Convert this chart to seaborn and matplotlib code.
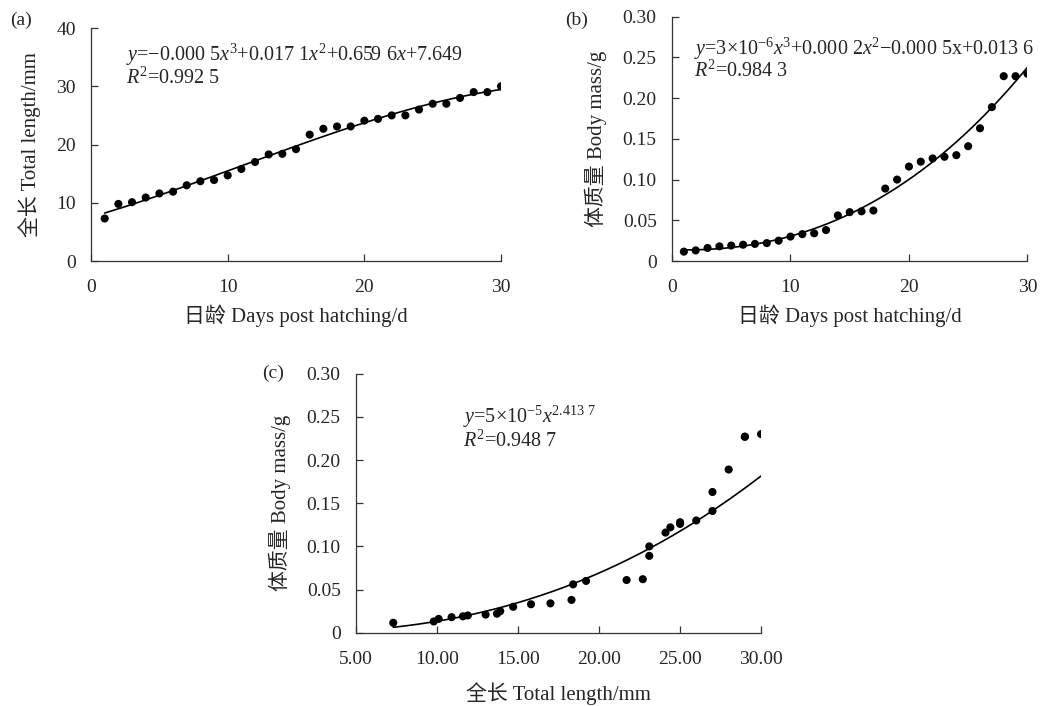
import numpy as np
import pandas as pd
import matplotlib
matplotlib.use("Agg")
import matplotlib.pyplot as plt
import seaborn as sns

# dades llegides de la figura
days = list(range(1, 31))
total_length = [7.3, 9.8, 10.1, 10.9, 11.6, 11.9, 13.0, 13.7, 13.9, 14.7,
                15.8, 17.0, 18.3, 18.4, 19.2, 21.7, 22.7, 23.1, 23.1, 24.1,
                24.4, 25.0, 25.0, 26.0, 27.0, 27.0, 28.0, 29.0, 29.0, 30.0]
body_mass = [0.0115, 0.013, 0.016, 0.018, 0.019, 0.020, 0.021, 0.022, 0.025, 0.030,
             0.033, 0.034, 0.038, 0.056, 0.060, 0.061, 0.062, 0.089, 0.100, 0.116,
             0.122, 0.126, 0.128, 0.130, 0.141, 0.163, 0.189, 0.227, 0.227, 0.230]

eq_a = [r"$y$=−0.000 5$x^3$+0.017 1$x^2$+0.659 6$x$+7.649", r"$R^2$=0.992 5"]
eq_b = [r"$y$=3×10$^{-6}$$x^3$+0.000 2$x^2$−0.000 5x+0.013 6", r"$R^2$=0.984 3"]
eq_c = [r"$y$=5×10$^{-5}$$x^{2.413\ 7}$", r"$R^2$=0.948 7"]

df = pd.DataFrame({"dia": days, "llarg": total_length, "massa": body_mass})

sns.set_style("ticks")
plt.rcParams["font.family"] = ["Liberation Serif", "Noto Sans CJK SC"]
plt.rcParams["mathtext.fontset"] = "custom"
plt.rcParams["mathtext.rm"] = "Liberation Serif"
plt.rcParams["mathtext.it"] = "Liberation Serif:italic"
plt.rcParams["axes.edgecolor"] = "#333333"
plt.rcParams["axes.linewidth"] = 0.9

fig = plt.figure(figsize=(10.44, 7.06), dpi=100)
ax_a = fig.add_axes([0.0872, 0.6303, 0.3927, 0.330])
ax_b = fig.add_axes([0.6437, 0.6303, 0.3404, 0.346])
ax_c = fig.add_axes([0.341, 0.1038, 0.388, 0.3669])


def estil(ax, xlim, ylim, xticks, yticks, xfmt, yfmt, xlabel, ylabel, xpad=6):
    # eixos sense marc superior ni dret, marques cap a dins
    sns.despine(ax=ax)
    ax.set_xlim(*xlim)
    ax.set_ylim(*ylim)
    ax.set_xticks(xticks)
    ax.set_yticks(yticks)
    ax.set_xticklabels([xfmt(v) for v in xticks])
    ax.set_yticklabels([yfmt(v) for v in yticks])
    ax.tick_params(axis="x", direction="in", length=5, width=0.9, pad=13,
                   labelsize=14, color="#333333")
    ax.tick_params(axis="y", direction="in", length=5, width=0.9, pad=11,
                   labelsize=14, color="#333333")
    ax.set_xlabel(xlabel, fontsize=15, labelpad=xpad)
    ax.set_ylabel(ylabel, fontsize=15, labelpad=11)


def punts_i_linia(ax, x, y, xs, ys):
    sns.lineplot(x=xs, y=ys, ax=ax, color="black", linewidth=1.2)
    sns.scatterplot(x=x, y=y, ax=ax, color="black", s=34, edgecolor="none", zorder=3)


# (a) polinomi de grau 3
ca = np.polyfit(df["dia"], df["llarg"], 3)
xa = np.linspace(min(days), max(days), 200)
punts_i_linia(ax_a, df["dia"], df["llarg"], xa, np.polyval(ca, xa))
estil(ax_a, (0, 30), (0, 40), [0, 10, 20, 30], [0, 10, 20, 30, 40],
      lambda v: f"{v:g}", lambda v: f"{v:g}",
      "日龄 Days post hatching/d", "全长 Total length/mm")
ax_a.text(0.085, 0.885, eq_a[0], transform=ax_a.transAxes, fontsize=14.5, va="center")
ax_a.text(0.085, 0.785, eq_a[1], transform=ax_a.transAxes, fontsize=14.5, va="center")

# (b) polinomi de grau 3
cb = np.polyfit(df["dia"], df["massa"], 3)
xb = np.linspace(min(days), max(days), 200)
punts_i_linia(ax_b, df["dia"], df["massa"], xb, np.polyval(cb, xb))
estil(ax_b, (0, 30), (0, 0.30), [0, 10, 20, 30], [0, 0.05, 0.10, 0.15, 0.20, 0.25, 0.30],
      lambda v: f"{v:g}", lambda v: "0" if v == 0 else f"{v:.2f}",
      "日龄 Days post hatching/d", "体质量 Body mass/g")
ax_b.text(0.061, 0.87, eq_b[0], transform=ax_b.transAxes, fontsize=14.5, va="center")
ax_b.text(0.061, 0.775, eq_b[1], transform=ax_b.transAxes, fontsize=14.5, va="center")

# (c) potencial, ajust log-log
cc = np.polyfit(np.log(df["llarg"]), np.log(df["massa"]), 1)
xc = np.linspace(min(total_length), max(total_length), 200)
punts_i_linia(ax_c, df["llarg"], df["massa"], xc, np.exp(cc[1]) * xc ** cc[0])
estil(ax_c, (5, 30), (0, 0.30), [5, 10, 15, 20, 25, 30], [0, 0.05, 0.10, 0.15, 0.20, 0.25, 0.30],
      lambda v: f"{v:.2f}", lambda v: "0" if v == 0 else f"{v:.2f}",
      "全长 Total length/mm", "体质量 Body mass/g", xpad=10)
ax_c.text(0.265, 0.832, eq_c[0], transform=ax_c.transAxes, fontsize=14.5, va="center")
ax_c.text(0.265, 0.738, eq_c[1], transform=ax_c.transAxes, fontsize=14.5, va="center")

# etiquetes dels panells
fig.text(10 / 1044, 1 - 20 / 706, "(a)", fontsize=14, va="center")
fig.text(565 / 1044, 1 - 20 / 706, "(b)", fontsize=14, va="center")
fig.text(262 / 1044, 1 - 373 / 706, "(c)", fontsize=14, va="center")

fig.savefig("out.png", dpi=100)
